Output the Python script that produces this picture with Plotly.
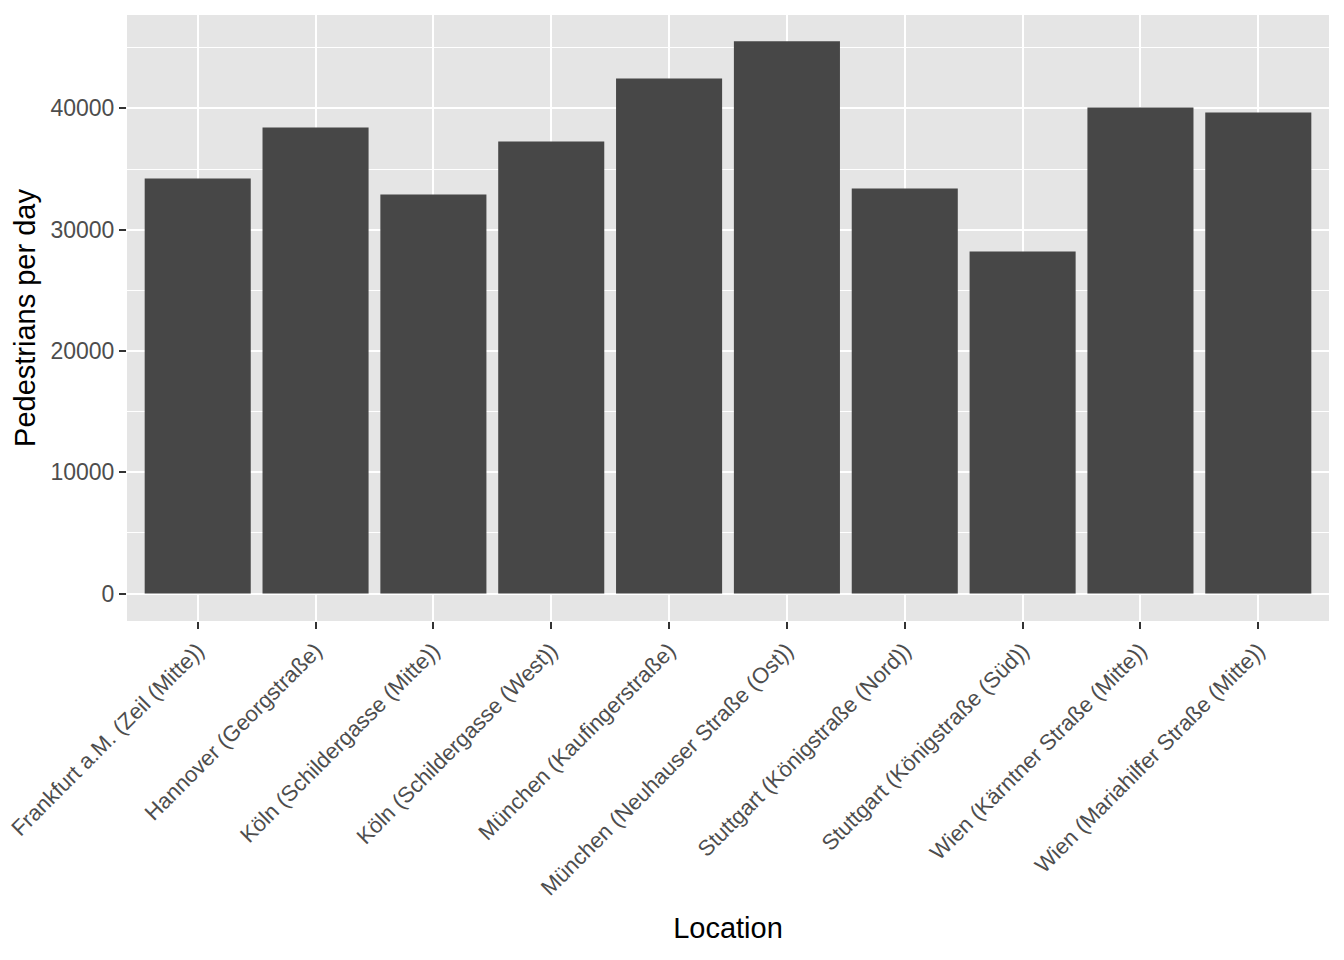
import plotly.graph_objects as go

locations = [
    "Frankfurt a.M. (Zeil (Mitte))",
    "Hannover (Georgstraße)",
    "Köln (Schildergasse (Mitte))",
    "Köln (Schildergasse (West))",
    "München (Kaufingerstraße)",
    "München (Neuhauser Straße (Ost))",
    "Stuttgart (Königstraße (Nord))",
    "Stuttgart (Königstraße (Süd))",
    "Wien (Kärntner Straße (Mitte))",
    "Wien (Mariahilfer Straße (Mitte))",
]
pedestrians = [34230, 38430, 32910, 37280, 42470, 45530, 33400, 28210, 40080, 39670]
y_ticks = [0, 10000, 20000, 30000, 40000]
y_minor = [5000, 15000, 25000, 35000, 45000]

font = "Liberation Sans, Arial, sans-serif"

fig = go.Figure(
    go.Bar(
        x=locations,
        y=pedestrians,
        marker=dict(color="#474747", line=dict(width=0)),
        width=0.9,
        hoverinfo="x+y",
    )
)

# page body has an 8px margin, so the figure is shrunk/offset to land on the same pixels
fig.update_layout(
    width=1336,
    height=952,
    paper_bgcolor="white",
    plot_bgcolor="#E5E5E5",
    margin=dict(l=119, r=15, t=7, b=339),
    showlegend=False,
    font=dict(family=font),
)

fig.update_xaxes(
    range=[-0.6, 9.6],
    showgrid=True,
    gridcolor="white",
    gridwidth=2,
    zeroline=False,
    ticks="outside",
    ticklen=7,
    tickwidth=2,
    tickcolor="#333333",
    tickangle=-45,
    tickfont=dict(size=22, color="#4D4D4D", family=font),
    title=dict(text="Location", font=dict(size=29, color="black", family=font), standoff=18),
    automargin=False,
)

fig.update_yaxes(
    range=[-2260, 47700],
    tickvals=y_ticks,
    ticktext=[str(v) for v in y_ticks],
    showgrid=True,
    gridcolor="white",
    gridwidth=2,
    minor=dict(showgrid=True, gridcolor="white", gridwidth=1, tickvals=y_minor),
    zeroline=False,
    ticks="outside",
    ticklen=7,
    tickwidth=2,
    tickcolor="#333333",
    tickfont=dict(size=23, color="#4D4D4D", family=font),
    title=dict(text="Pedestrians per day", font=dict(size=29, color="black", family=font), standoff=6),
    automargin=False,
)

fig.write_html("out.html")
